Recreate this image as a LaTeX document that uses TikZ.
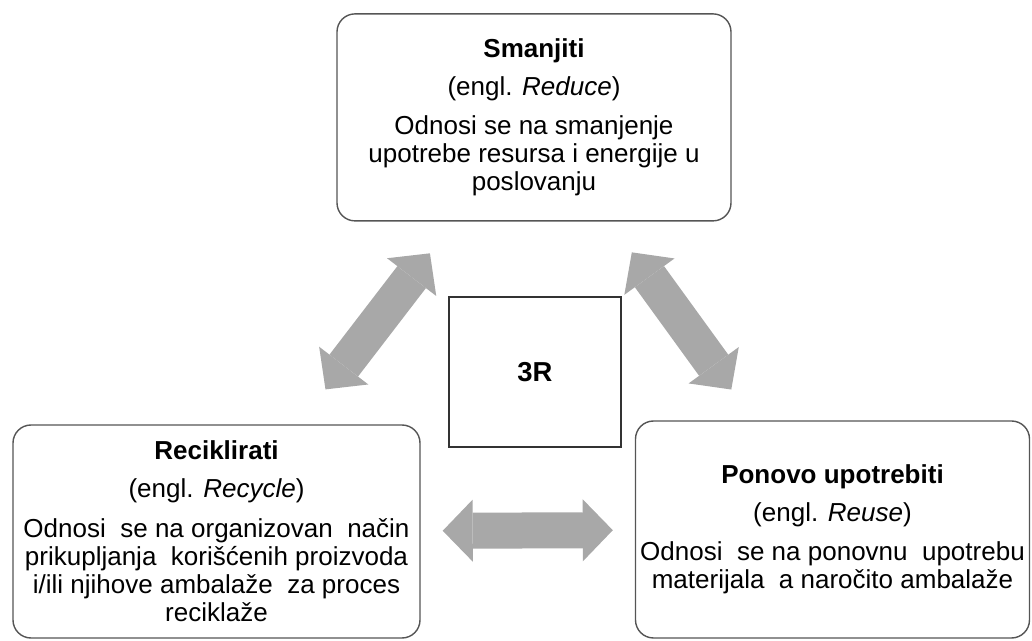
\documentclass[tikz,border=0pt]{standalone}
\usepackage{fontspec}
\setmainfont{Liberation Sans}
\usepackage{tikz}
\usetikzlibrary{arrows.meta}

\definecolor{boxline}{RGB}{85,85,85}
\definecolor{arrowgray}{RGB}{168,168,168}

\begin{document}
\begin{tikzpicture}[
	rbox/.style={rectangle,draw=boxline,line width=1pt,rounded corners=0.45cm,
		align=center,font=\fontsize{18.5}{20}\selectfont},
	cbox/.style={rectangle,draw=black!80,line width=1pt,
		font=\fontsize{19.5}{22}\selectfont\bfseries},
	bigarrow/.style={color=arrowgray,line width=0.9cm,
		{Triangle[length=0.75cm,width=1.55cm,line width=0pt]}-{Triangle[length=0.75cm,width=1.55cm,line width=0pt]}}
]
	
		\useasboundingbox (0,0) rectangle (25.8,16.025);
	
		\node[rbox,minimum width=9.85cm,minimum height=5.175cm] (reduce) at (13.35,13.09)
			{\textbf{Smanjiti}\\[7pt]
			 (engl. \textit{Reduce})\\[8pt]
			 Odnosi se na smanjenje\\
			 upotrebe resursa i energije u\\
			 poslovanju};
		\node[cbox,minimum width=4.3cm,minimum height=3.75cm] (core) at (13.375,6.725) {3R};
		\node[rbox,minimum width=10.175cm,minimum height=5.325cm] (recycle) at (5.4125,2.7375)
			{\textbf{Reciklirati}\\[7pt]
			 (engl. \textit{Recycle})\\[8pt]
			 Odnosi\ \ se na organizovan\ \ način\\
			 prikupljanja\ \ korišćenih proizvoda\\
			 i/ili njihove ambalaže\ \ za proces\\
			 reciklaže};
		\node[rbox,minimum width=9.825cm,minimum height=5.425cm] (reuse) at (20.8125,2.7875)
			{\textbf{Ponovo upotrebiti}\\[7pt]
			 (engl. \textit{Reuse})\\[8pt]
			 Odnosi\ \ se na ponovnu\ \ upotrebu\\
			 materijala\ \ a naročito ambalaže};
		
		\path[bigarrow] (recycle) edge[shorten <=1.1cm,shorten >=1cm] (reduce);
		\path[bigarrow] (reduce) edge[shorten <=0.95cm,shorten >=0.95cm] (reuse);
		\path[bigarrow] (recycle) edge[shorten <=0.55cm,shorten >=0.55cm] (reuse);
		
	\end{tikzpicture}
\end{document}
